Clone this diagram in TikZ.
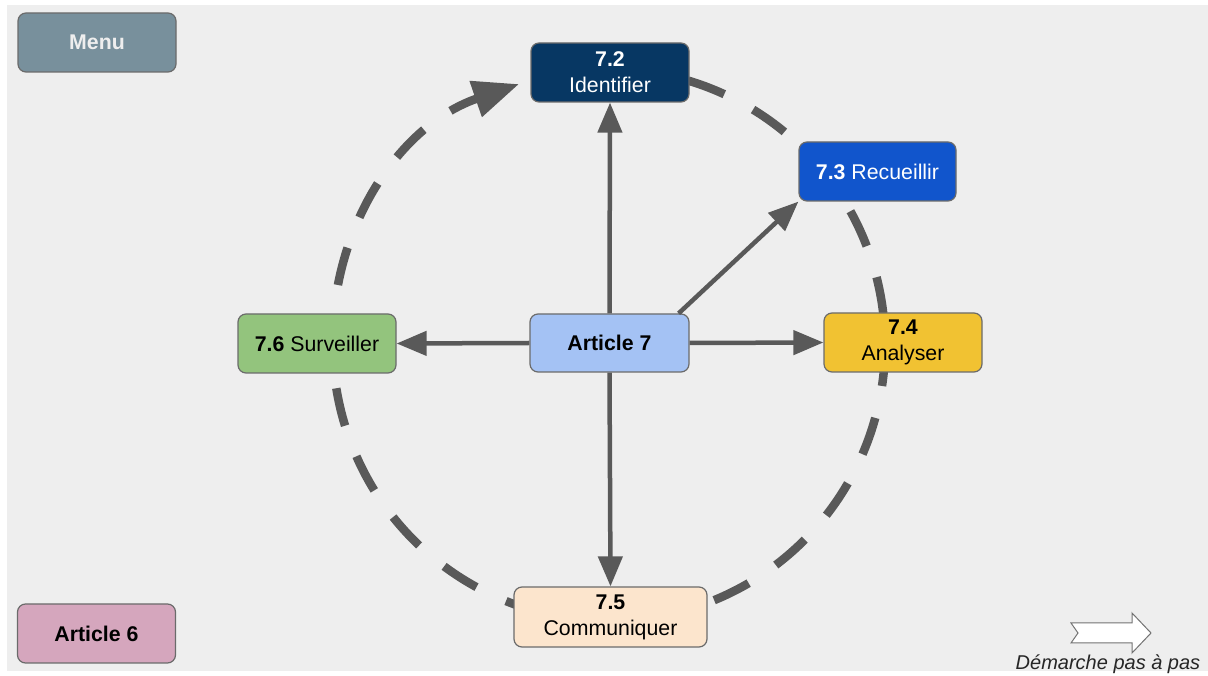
\documentclass[tikz,border=0pt]{standalone}
\usepackage{fontspec}
\setmainfont{Liberation Sans}
\usetikzlibrary{arrows.meta}
\definecolor{bg}{HTML}{EEEEEE}
\definecolor{menuc}{HTML}{78909C}
\definecolor{navy}{HTML}{073763}
\definecolor{blu}{HTML}{1155CC}
\definecolor{lblue}{HTML}{A4C2F4}
\definecolor{grn}{HTML}{93C47D}
\definecolor{yel}{HTML}{F1C232}
\definecolor{peach}{HTML}{FCE5CD}
\definecolor{pink}{HTML}{D5A6BD}
\definecolor{arr}{HTML}{595959}
\definecolor{bord}{HTML}{6B6B6B}
\tikzset{
  box/.style={draw=bord, line width=1.2pt, rounded corners=8pt, inner sep=0pt,
    minimum width=158pt, minimum height=59pt, align=center,
    font=\fontsize{21.3}{26}\selectfont},
  conn/.style={draw=arr, line width=4.5pt, -{Triangle[length=30pt,width=24pt]}},
  cyc/.style={draw=arr, line width=8.5pt, dash pattern=on 38.5pt off 32.65pt,
    dash phase=8.5pt, {Triangle[length=46pt,width=36pt]}-}
}
\begin{document}
\begin{tikzpicture}[x=1pt,y=1pt]
\useasboundingbox (0,0) rectangle (1208,675);
\fill[white] (0,0) rectangle (1208,675);
\fill[bg] (7,4) rectangle (1208,670);
% cycle
\coordinate (c) at (609,330);
\draw[cyc] ([shift={(-251:276)}]c) arc[start angle=-251, end angle=77, radius=276];
% nodes
\node[box, fill=menuc, text=bg, font=\fontsize{21.3}{26}\selectfont\bfseries] (menu) at (97,632.5) {Menu};
\node[box, fill=navy, text=white] (i72) at (610,602.5) {\textbf{7.2}\\Identifier};
\node[box, fill=blu, text=white, minimum width=157pt] (r73) at (877.5,503.5) {\textbf{7.3} Recueillir};
\node[box, fill=lblue, minimum width=159pt, minimum height=58pt] (a7) at (609.5,332) {\textbf{Article 7}};
\node[box, fill=grn] (s76) at (317,331.5) {\textbf{7.6} Surveiller};
\node[box, fill=yel] (a74) at (903,332.5) {\textbf{7.4}\\Analyser};
\node[box, fill=peach, minimum width=193pt, minimum height=60pt] (c75) at (610.5,58) {\textbf{7.5}\\Communiquer};
\node[box, fill=pink] (a6) at (96.5,41.5) {\textbf{Article 6}};
% connectors
\draw[conn] (a7.north) -- (i72.south);
\draw[conn] ([xshift=-11pt]a7.north east) -- (r73.south west);
\draw[conn] (a7.east) -- (a74.west);
\draw[conn] (a7.west) -- (s76.east);
\draw[conn] (a7.south) -- (c75.north);
% step arrow
\draw[fill=white, draw=black!55, line width=1pt, line join=miter]
  (1071,52) -- (1132,52) -- (1132,62) -- (1151,42) -- (1132,22) -- (1132,32) -- (1071,32) -- (1078,42) -- cycle;
\node[font=\fontsize{20}{22}\selectfont\itshape, text=black!85] (dem) at (1108,11) {Démarche pas à pas};
\end{tikzpicture}
\end{document}
